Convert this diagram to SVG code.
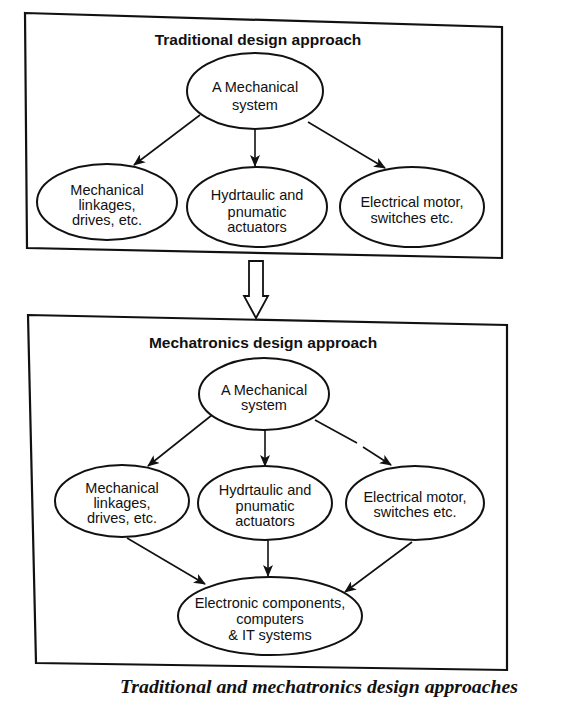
<svg xmlns="http://www.w3.org/2000/svg" width="563" height="725" viewBox="0 0 563 725">
<style>
.frame{fill:none;stroke:#111;stroke-width:2.2}
.node{fill:#fff;stroke:#111;stroke-width:2}
.t{font-family:"Liberation Sans",Arial,sans-serif;font-size:14.5px;fill:#111;text-anchor:middle}
.title{font-family:"Liberation Sans",Arial,sans-serif;font-size:15.5px;font-weight:bold;fill:#111;text-anchor:middle}
.cap{font-family:"Liberation Serif","Times New Roman",serif;font-size:19px;font-weight:bold;font-style:italic;fill:#111}
.edge{stroke:#111;stroke-width:1.6;fill:none}
.arr{marker-end:url(#ah)}
</style>
<defs>
<marker id="ah" viewBox="0 0 12 10" refX="11" refY="5" markerWidth="12" markerHeight="10" markerUnits="userSpaceOnUse" orient="auto">
<path d="M0,0 L12,5 L0,10 L3,5 z" fill="#111"/>
</marker>
</defs>
<rect width="563" height="725" fill="#fff"/>

<g id="traditional-frame">
<polygon class="frame" points="25,13 502,27 502,258 27,248"/>
<text class="title" x="258" y="45">Traditional design approach</text>
</g>

<g id="connectors-top">
<line class="edge arr" x1="200" y1="115" x2="134" y2="165"/>
<line class="edge arr" x1="255" y1="129" x2="255" y2="166"/>
<line class="edge arr" x1="308" y1="122" x2="385" y2="168"/>
</g>

<g id="t-mech">
<ellipse class="node" cx="255" cy="91" rx="68" ry="38"/>
<text class="t" x="255" y="92">A Mechanical</text>
<text class="t" x="255" y="110">system</text>
</g>
<g id="t-link">
<ellipse class="node" cx="107" cy="202" rx="70" ry="38"/>
<text class="t" x="107" y="195">Mechanical</text>
<text class="t" x="107" y="210">linkages,</text>
<text class="t" x="107" y="225">drives, etc.</text>
</g>
<g id="t-hyd">
<ellipse class="node" cx="257" cy="207" rx="70" ry="40"/>
<text class="t" x="257" y="200">Hydrtaulic and</text>
<text class="t" x="257" y="217">pnumatic</text>
<text class="t" x="257" y="232">actuators</text>
</g>
<g id="t-elec">
<ellipse class="node" cx="412" cy="207" rx="72" ry="40"/>
<text class="t" x="412" y="207">Electrical motor,</text>
<text class="t" x="412" y="223">switches etc.</text>
</g>

<g id="transition-arrow">
<polygon points="249,261 263,261 263,296 268,296 256,318 244,296 249,296" fill="#fff" stroke="#111" stroke-width="1.8" stroke-linejoin="miter"/>
</g>

<g id="mechatronics-frame">
<polygon class="frame" points="28,315 507,325 507,670 36,663"/>
<text class="title" x="263" y="348">Mechatronics design approach</text>
</g>

<g id="connectors-bottom">
<line class="edge arr" x1="212" y1="415" x2="148" y2="466"/>
<line class="edge arr" x1="265" y1="430" x2="265" y2="466"/>
<line class="edge" x1="315" y1="420" x2="357" y2="443"/>
<line class="edge arr" x1="363" y1="447" x2="391" y2="465"/>
<line class="edge arr" x1="127" y1="538" x2="205" y2="584"/>
<line class="edge arr" x1="268" y1="540" x2="268" y2="576"/>
<line class="edge arr" x1="412" y1="542" x2="345" y2="592"/>
</g>

<g id="m-mech">
<ellipse class="node" cx="264" cy="394" rx="65" ry="36"/>
<text class="t" x="264" y="395">A Mechanical</text>
<text class="t" x="264" y="410">system</text>
</g>
<g id="m-link">
<ellipse class="node" cx="122" cy="501" rx="67" ry="36"/>
<text class="t" x="122" y="493">Mechanical</text>
<text class="t" x="122" y="508">linkages,</text>
<text class="t" x="122" y="523">drives, etc.</text>
</g>
<g id="m-hyd">
<ellipse class="node" cx="265" cy="503" rx="67" ry="37"/>
<text class="t" x="265" y="495">Hydrtaulic and</text>
<text class="t" x="265" y="511">pnumatic</text>
<text class="t" x="265" y="526">actuators</text>
</g>
<g id="m-elec">
<ellipse class="node" cx="415" cy="503" rx="69" ry="37"/>
<text class="t" x="415" y="502">Electrical motor,</text>
<text class="t" x="415" y="517">switches etc.</text>
</g>
<g id="m-electronic">
<ellipse class="node" cx="270" cy="616" rx="92" ry="39"/>
<text class="t" x="270" y="608">Electronic components,</text>
<text class="t" x="270" y="624">computers</text>
<text class="t" x="270" y="640">&amp; IT systems</text>
</g>

<text class="cap" x="120" y="693" textLength="398" lengthAdjust="spacingAndGlyphs">Traditional and mechatronics design approaches</text>
</svg>
